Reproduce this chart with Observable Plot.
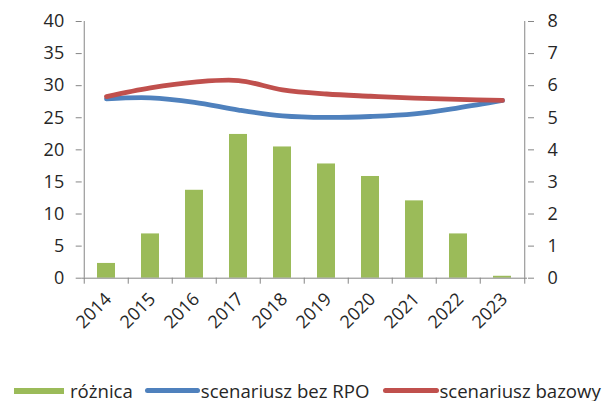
<!DOCTYPE html>
<html><head><meta charset="utf-8">
<script src="https://cdn.jsdelivr.net/npm/d3@7"></script>
<script src="https://cdn.jsdelivr.net/npm/@observablehq/plot@0.6"></script>
<style>
body{margin:0;background:#fff;font-family:"Open Sans",sans-serif;color:#262626;}
#legend{height:41px;box-sizing:border-box;padding-top:20px;display:flex;align-items:center;font-size:18.6px;line-height:20px;white-space:nowrap;overflow:visible;}
#legend .it{display:flex;align-items:center;height:20px;}
#legend .sw{display:inline-block;}
</style></head>
<body><div id="chart"></div><div id="legend"></div>
<script>
// Data
const years = ["2014","2015","2016","2017","2018","2019","2020","2021","2022","2023"];
const roznica = [0.46, 1.38, 2.74, 4.48, 4.09, 3.56, 3.17, 2.41, 1.38, 0.06];      // right axis units
const bezRPO  = [27.95, 28.1, 27.4, 26.2, 25.3, 25.05, 25.2, 25.6, 26.55, 27.7];   // left axis units
const bazowy  = [28.3, 29.65, 30.55, 30.8, 29.35, 28.7, 28.35, 28.05, 27.85, 27.7]; // left axis units
const leftTicks = [0, 5, 10, 15, 20, 25, 30, 35, 40];
const rightTicks = [0, 1, 2, 3, 4, 5, 6, 7, 8];
const seriesNames = ["różnica", "scenariusz bez RPO", "scenariusz bazowy"];
const colors = ["#9BBB59", "#4F81BD", "#C0504D"];

const W = 615, H = 360, mL = 81.7, mR = 88, mT = 21, mB = H - 277.7;
const ratio = leftTicks[leftTicks.length - 1] / rightTicks[rightTicks.length - 1];
const step = (W - mL - mR) / years.length;
const rows = years.map((y, i) => ({year: y, diff: roznica[i] * ratio, bez: bezRPO[i], baz: bazowy[i]}));
const axisColor = "#868686";

const chart = Plot.plot({
  width: W, height: H, marginLeft: mL, marginRight: mR, marginTop: mT, marginBottom: mB,
  style: {fontFamily: "'Open Sans', sans-serif", fontSize: "18px", color: "#262626", background: "white", overflow: "visible"},
  x: {type: "band", domain: years, paddingInner: 0.59, paddingOuter: 0.295, align: 0.5},
  y: {domain: [0, 40]},
  marks: [
    Plot.barY(rows, {x: "year", y: "diff", fill: colors[0]}),
    Plot.lineY(rows, {x: "year", y: "bez", stroke: colors[1], strokeWidth: 4.8, curve: "catmull-rom", strokeLinecap: "round"}),
    Plot.lineY(rows, {x: "year", y: "baz", stroke: colors[2], strokeWidth: 4.8, curve: "catmull-rom", strokeLinecap: "round"}),
    Plot.ruleY([0], {stroke: axisColor}),
    Plot.ruleX([years[0]], {y1: 0, y2: 40, dx: -step / 2, stroke: axisColor}),
    Plot.ruleX([years[years.length - 1]], {y1: 0, y2: 40, dx: step / 2, stroke: axisColor}),
    Plot.axisY({anchor: "left", ticks: leftTicks, tickSize: 6, tickPadding: 12, stroke: axisColor, fill: "#262626", label: null}),
    Plot.axisY({anchor: "right", ticks: rightTicks.map(v => v * ratio), tickFormat: d => String(d / ratio), tickSize: 6, tickPadding: 14, stroke: axisColor, fill: "#262626", label: null}),
    Plot.axisX({anchor: "bottom", ticks: years, tickFormat: () => "", tickSize: 6, dx: -step / 2, stroke: axisColor, label: null}),
    Plot.axisX({anchor: "bottom", ticks: [years[years.length - 1]], tickFormat: () => "", tickSize: 6, dx: step / 2, stroke: axisColor, label: null}),
    Plot.axisX({anchor: "bottom", ticks: years, tickSize: 0, tickPadding: 18, tickRotate: -45, dx: 2, fill: "#262626", label: null})
  ]
});
document.getElementById("chart").appendChild(chart);

// Legend
const legend = document.getElementById("legend");
const specs = [
  {name: seriesNames[0], color: colors[0], w: 50, h: 6, ml: 14, gap: 6},
  {name: seriesNames[1], color: colors[1], w: 55, h: 4.5, ml: 12, gap: 1},
  {name: seriesNames[2], color: colors[2], w: 56, h: 4.5, ml: 14, gap: 0}
];
for (const s of specs) {
  const it = document.createElement("span");
  it.className = "it";
  it.style.marginLeft = s.ml + "px";
  const sw = document.createElement("span");
  sw.className = "sw";
  sw.style.width = s.w + "px";
  sw.style.height = s.h + "px";
  sw.style.background = s.color;
  if (s.h < 6) sw.style.borderRadius = "3px";
  sw.style.marginRight = s.gap + "px";
  const tx = document.createElement("span");
  tx.textContent = s.name;
  it.appendChild(sw); it.appendChild(tx);
  legend.appendChild(it);
}
</script>
</body></html>
